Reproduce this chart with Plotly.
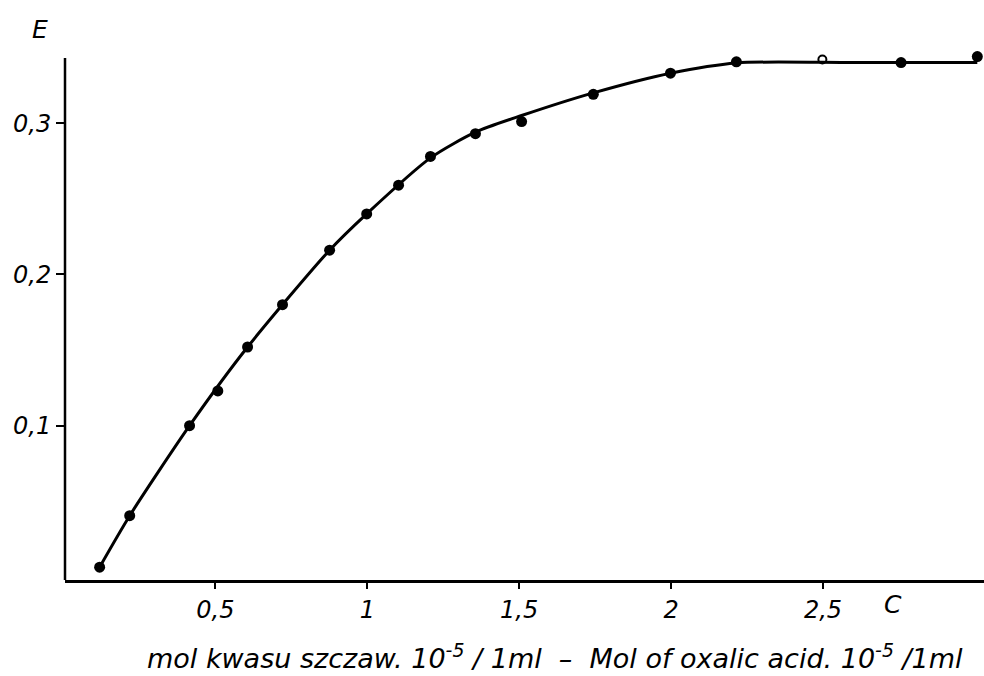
import plotly.graph_objects as go

# measured points (x: mol oxalic acid 10^-5 / 1 ml, y: extinction E)
pts_x = [0.119, 0.218, 0.415, 0.508, 0.606, 0.721, 0.876, 0.998, 1.103, 1.208,
         1.356, 1.508, 1.744, 1.998, 2.215, 2.757, 3.008]
pts_y = [0.0065, 0.0405, 0.100, 0.123, 0.152, 0.180, 0.216, 0.240, 0.259, 0.278,
         0.293, 0.301, 0.319, 0.333, 0.3405, 0.340, 0.344]
# open-circle point
open_x = [2.498]
open_y = [0.342]
# hand-drawn fitted curve
curve_x = [0.119, 0.218, 0.415, 0.606, 0.876, 0.998, 1.208, 1.356, 1.508, 1.744, 1.998, 2.215, 2.60, 3.008]
curve_y = [0.0065, 0.0405, 0.100, 0.152, 0.216, 0.240, 0.277, 0.294, 0.305, 0.320, 0.333, 0.3398, 0.340, 0.340]

x_tickvals = [0.5, 1, 1.5, 2, 2.5]
x_ticktext = ["0,5", "1", "1,5", "2", "2,5"]
y_tickvals = [0.1, 0.2, 0.3]
y_ticktext = ["0,1", "0,2", "0,3"]

FONT = "DejaVu Sans"
W, H = 984, 676
ML, MR, MT, MB = 65, 0, 52, 96
Y_RANGE = [-0.002, 0.347]
Y_AXIS_TOP = 0.343

fig = go.Figure()
fig.add_trace(go.Scatter(x=curve_x, y=curve_y, mode="lines",
                         line=dict(color="black", width=3, shape="spline", smoothing=0.7),
                         hoverinfo="skip", showlegend=False))
fig.add_trace(go.Scatter(x=pts_x, y=pts_y, mode="markers",
                         marker=dict(color="black", size=11, symbol="circle"),
                         cliponaxis=False, showlegend=False))
fig.add_trace(go.Scatter(x=open_x, y=open_y, mode="markers",
                         marker=dict(color="black", size=8, symbol="circle-open",
                                     line=dict(width=2)),
                         cliponaxis=False, showlegend=False))

pw, ph = W - ML - MR, H - MT - MB
def px(xp):
    return (xp - ML) / pw
def py(yp):
    return (H - MB - yp) / ph

fig.add_shape(type="line", xref="paper", yref="y", x0=0, x1=0,
              y0=Y_RANGE[0], y1=Y_AXIS_TOP, line=dict(color="black", width=2.5))

fig.update_layout(
    width=W, height=H,
    margin=dict(l=ML, r=MR, t=MT, b=MB),
    paper_bgcolor="white", plot_bgcolor="white",
    font=dict(family=FONT, size=24, color="black", style="italic"),
    xaxis=dict(range=[0.005, 3.03], showgrid=False, zeroline=False,
               showline=True, linecolor="black", linewidth=2.5,
               ticks="outside", ticklen=6, tickwidth=2, tickcolor="black",
               tickvals=x_tickvals, ticktext=x_ticktext,
               tickfont=dict(family=FONT, size=24, style="italic")),
    yaxis=dict(range=Y_RANGE, showgrid=False, zeroline=False,
               showline=False,
               ticks="outside", ticklen=8, tickwidth=2, tickcolor="black",
               tickvals=y_tickvals, ticktext=y_ticktext,
               tickfont=dict(family=FONT, size=24, style="italic")),
    annotations=[
        dict(text="E", x=px(40), y=py(30), xref="paper", yref="paper", showarrow=False,
             xanchor="center", yanchor="middle",
             font=dict(family=FONT, size=25, style="italic")),
        dict(text="C", x=px(893), y=py(604), xref="paper", yref="paper", showarrow=False,
             xanchor="center", yanchor="middle",
             font=dict(family=FONT, size=25, style="italic")),
        dict(text="mol kwasu szczaw. 10<sup>-5</sup> / 1ml  –  Mol of oxalic acid. 10<sup>-5</sup> /1ml",
             x=px(555), y=py(656), xref="paper", yref="paper", showarrow=False,
             xanchor="center", yanchor="middle",
             font=dict(family=FONT, size=27, style="italic")),
    ],
)

fig.write_html("out.html", config={"displayModeBar": False},
               post_script="document.body.style.margin='0';document.body.style.overflow='hidden';")
